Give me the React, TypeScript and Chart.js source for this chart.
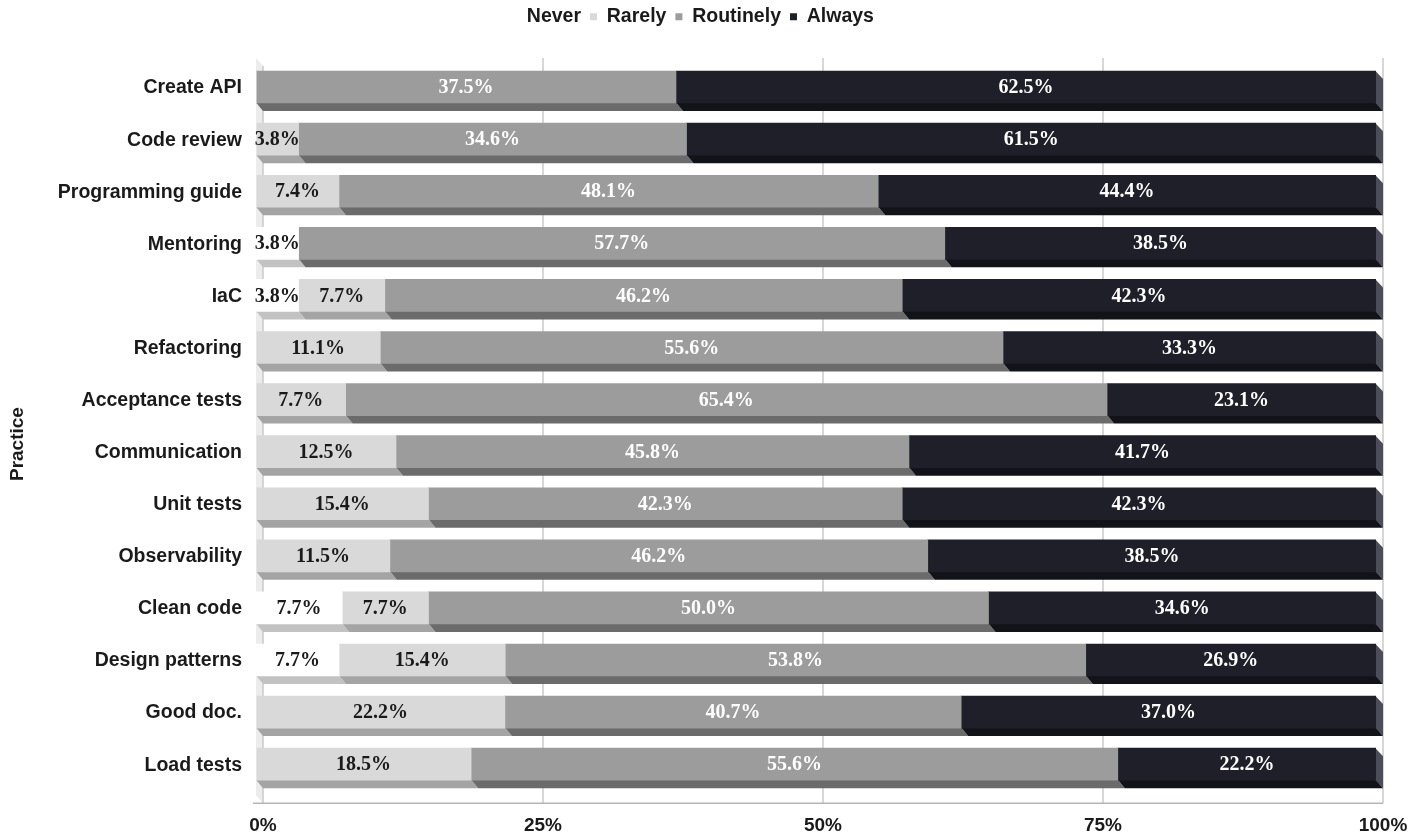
import React, { useEffect, useRef } from 'react';
import { Chart, registerables } from 'chart.js';

Chart.register(...registerables);

const categories = [
  'Create API',
  'Code review',
  'Programming guide',
  'Mentoring',
  'IaC',
  'Refactoring',
  'Acceptance tests',
  'Communication',
  'Unit tests',
  'Observability',
  'Clean code',
  'Design patterns',
  'Good doc.',
  'Load tests',
];

const seriesNames = ['Never', 'Rarely', 'Routinely', 'Always'];

const never = [0, 0, 0, 3.8, 3.8, 0, 0, 0, 0, 0, 7.7, 7.7, 0, 0];
const rarely = [0, 3.8, 7.4, 0, 7.7, 11.1, 7.7, 12.5, 15.4, 11.5, 7.7, 15.4, 22.2, 18.5];
const routinely = [37.5, 34.6, 48.1, 57.7, 46.2, 55.6, 65.4, 45.8, 42.3, 46.2, 50.0, 53.8, 40.7, 55.6];
const always = [62.5, 61.5, 44.4, 38.5, 42.3, 33.3, 23.1, 41.7, 42.3, 38.5, 34.6, 26.9, 37.0, 22.2];

const xTickValues = [0, 25, 50, 75, 100];

const faceColors = ['#ffffff', '#d9d9d9', '#9c9c9c', '#1e1f29'];
const bottomColors = ['#c2c2c2', '#a4a4a4', '#6b6b6b', '#121319'];
const sideColor = '#4c4d58';
const labelColors = ['#1a1a1a', '#1a1a1a', '#ffffff', '#ffffff'];

const DX = 7;
const DY = 8;

const series = [never, rarely, routinely, always];
const rowTotals = categories.map((_, i) => series.reduce((s, arr) => s + arr[i], 0));

const depthPlugin = {
  id: 'depth3d',
  afterLayout(chart: any) {
    const lg = chart.legend;
    if (lg) {
      lg.left += 4;
      lg.right += 4;
      lg.top -= 2;
      lg.bottom -= 2;
    }
  },
  beforeDatasetsDraw(chart: any) {
    const { ctx, chartArea: ca, scales } = chart;
    const xs = scales.x;
    const wallTop = ca.top - 3;
    const floorY = ca.bottom + 13;
    ctx.save();
    // left wall
    ctx.fillStyle = '#ececec';
    ctx.beginPath();
    ctx.moveTo(ca.left, wallTop);
    ctx.lineTo(ca.left + DX, wallTop + DY);
    ctx.lineTo(ca.left + DX, floorY);
    ctx.lineTo(ca.left, floorY - DY);
    ctx.closePath();
    ctx.fill();
    // back grid lines
    ctx.strokeStyle = '#cacaca';
    ctx.lineWidth = 1.5;
    xTickValues.forEach((v) => {
      const px = xs.getPixelForValue(v) + DX;
      ctx.beginPath();
      ctx.moveTo(px, v === 0 ? wallTop + DY : wallTop);
      ctx.lineTo(px, floorY);
      ctx.stroke();
    });
    // axis line
    ctx.strokeStyle = '#b5b5b5';
    ctx.beginPath();
    ctx.moveTo(ca.left - 3, floorY);
    ctx.lineTo(xs.getPixelForValue(100) + DX, floorY);
    ctx.stroke();

    // depth faces
    chart.data.datasets.forEach((ds: any, d: number) => {
      const meta = chart.getDatasetMeta(d);
      meta.data.forEach((bar: any, i: number) => {
        if (!ds.raw[i]) return;
        const p = bar.getProps(['x', 'y', 'base', 'height'], true);
        const x0 = Math.min(p.x, p.base);
        const x1 = Math.max(p.x, p.base);
        const yt = p.y - p.height / 2;
        const yb = p.y + p.height / 2;
        ctx.fillStyle = bottomColors[d];
        ctx.beginPath();
        ctx.moveTo(x0, yb - 0.5);
        ctx.lineTo(x1, yb - 0.5);
        ctx.lineTo(x1 + DX, yb + DY);
        ctx.lineTo(x0 + DX, yb + DY);
        ctx.closePath();
        ctx.fill();
        if (d === chart.data.datasets.length - 1) {
          ctx.fillStyle = sideColor;
          ctx.beginPath();
          ctx.moveTo(x1 - 0.5, yt);
          ctx.lineTo(x1 + DX, yt + DY);
          ctx.lineTo(x1 + DX, yb + DY);
          ctx.lineTo(x1 - 0.5, yb);
          ctx.closePath();
          ctx.fill();
        }
      });
    });
    ctx.restore();
  },
  afterDatasetsDraw(chart: any) {
    const { ctx } = chart;
    ctx.save();
    ctx.font = 'bold 20px "Liberation Serif", "Times New Roman", serif';
    ctx.textAlign = 'center';
    ctx.textBaseline = 'middle';
    chart.data.datasets.forEach((ds: any, d: number) => {
      const meta = chart.getDatasetMeta(d);
      meta.data.forEach((bar: any, i: number) => {
        const raw = ds.raw[i];
        if (!raw) return;
        const p = bar.getProps(['x', 'y', 'base'], true);
        ctx.fillStyle = labelColors[d];
        ctx.fillText(raw.toFixed(1) + '%', (p.x + p.base) / 2, p.y + 1);
      });
    });
    ctx.restore();
  },
};

export default function App() {
  const canvasRef = useRef<HTMLCanvasElement | null>(null);

  useEffect(() => {
    if (!canvasRef.current) return;
    Chart.defaults.font.family = '"Liberation Sans", Arial, sans-serif';
    Chart.defaults.color = '#1a1a1a';

    const datasets = series.map((arr, d) => ({
      label: seriesNames[d],
      data: arr.map((v, i) => (v / rowTotals[i]) * 100),
      raw: arr,
      backgroundColor: faceColors[d],
      borderWidth: 0,
      barThickness: 32,
      categoryPercentage: 1,
    }));

    const chart = new Chart(canvasRef.current, {
      type: 'bar',
      data: { labels: categories, datasets: datasets as any },
      options: {
        indexAxis: 'y',
        responsive: false,
        animation: false,
        layout: { padding: { top: 0, right: 37, bottom: 0, left: 0 } },
        plugins: {
          tooltip: { enabled: false },
          legend: {
            position: 'top',
            labels: {
              usePointStyle: true,
              pointStyle: 'rect',
              boxWidth: 7,
              boxHeight: 7,
              padding: 9,
              color: '#1a1a1a',
              font: { size: 19.5, weight: 'bold' },
            },
          },
        },
        scales: {
          x: {
            stacked: true,
            min: 0,
            max: 100,
            position: 'bottom',
            grid: { display: false, drawTicks: true, tickLength: 12 },
            border: { display: false },
            ticks: {
              stepSize: 25,
              labelOffset: DX,
              padding: 12,
              color: '#1a1a1a',
              font: { size: 19, weight: 'bold' },
              callback: (v: any) => v + '%',
            },
            afterFit: (s: any) => {
              s.height = 41.8;
            },
          },
          spacer: {
            type: 'linear',
            axis: 'x',
            position: 'top',
            display: true,
            grid: { display: false, drawTicks: false },
            border: { display: false },
            ticks: { display: false },
            afterFit: (s: any) => {
              s.height = 22.5;
            },
          },
          y: {
            stacked: true,
            grid: { display: false, drawTicks: false },
            border: { display: false },
            ticks: {
              padding: 14,
              labelOffset: 1,
              color: '#1a1a1a',
              font: { size: 19.5, weight: 'bold' },
            },
            title: {
              display: true,
              text: 'Practice       ',
              color: '#1a1a1a',
              font: { size: 19, weight: 'bold' },
              padding: { top: 6, bottom: 0 },
            },
            afterFit: (s: any) => {
              s.width = 256;
            },
          },
        } as any,
      },
      plugins: [depthPlugin],
    });

    return () => chart.destroy();
  }, []);

  return (
    <div style={{ position: 'absolute', left: 0, top: 0, width: 1413, height: 832, background: '#ffffff' }}>
      <canvas ref={canvasRef} width={1413} height={832} />
    </div>
  );
}
